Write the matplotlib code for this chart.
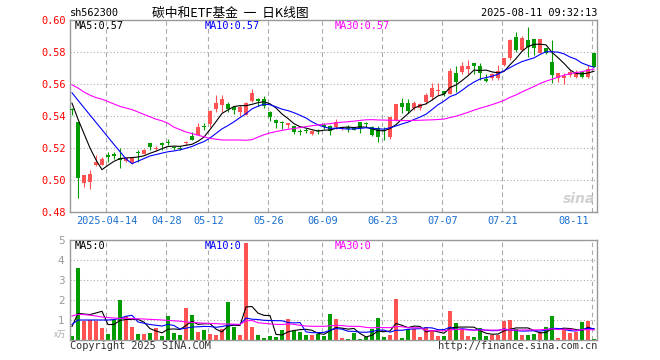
import numpy as np
import pandas as pd
import matplotlib
matplotlib.use("Agg")
import matplotlib.pyplot as plt

# daily candles, 2025-04-03 .. 2025-08-11
open_ = [0.5445, 0.5365, 0.4983, 0.4985, 0.5095, 0.5095, 0.5152, 0.5161, 0.5140, 0.5120,
         0.5105, 0.5178, 0.5163, 0.5233, 0.5195, 0.5230, 0.5238, 0.5206, 0.5198, 0.5232,
         0.5277, 0.5280, 0.5335, 0.5350, 0.5442, 0.5470, 0.5475, 0.5455, 0.5423, 0.5406,
         0.5496, 0.5506, 0.5504, 0.5427, 0.5375, 0.5360, 0.5344, 0.5337, 0.5304, 0.5314,
         0.5288, 0.5310, 0.5345, 0.5340, 0.5333, 0.5317, 0.5333, 0.5321, 0.5364, 0.5356,
         0.5333, 0.5323, 0.5314, 0.5267, 0.5375, 0.5480, 0.5480, 0.5448, 0.5448, 0.5490,
         0.5517, 0.5560, 0.5556, 0.5535, 0.5668, 0.5677, 0.5694, 0.5730, 0.5715, 0.5628,
         0.5638, 0.5638, 0.5720, 0.5760, 0.5896, 0.5810, 0.5875, 0.5880, 0.5796, 0.5823,
         0.5735, 0.5636, 0.5636, 0.5656, 0.5646, 0.5677, 0.5646, 0.5796]
high = [0.5450, 0.5365, 0.5030, 0.5063, 0.5155, 0.5145, 0.5177, 0.5177, 0.5198, 0.5140,
        0.5145, 0.5190, 0.5195, 0.5233, 0.5215, 0.5235, 0.5255, 0.5215, 0.5210, 0.5245,
        0.5300, 0.5358, 0.5355, 0.5435, 0.5530, 0.5530, 0.5490, 0.5460, 0.5470, 0.5490,
        0.5567, 0.5510, 0.5525, 0.5430, 0.5380, 0.5370, 0.5356, 0.5340, 0.5320, 0.5325,
        0.5310, 0.5320, 0.5355, 0.5345, 0.5380, 0.5340, 0.5345, 0.5333, 0.5365, 0.5362,
        0.5335, 0.5337, 0.5333, 0.5396, 0.5475, 0.5510, 0.5505, 0.5496, 0.5480, 0.5542,
        0.5604, 0.5604, 0.5558, 0.5700, 0.5715, 0.5740, 0.5750, 0.5732, 0.5730, 0.5665,
        0.5670, 0.5719, 0.5765, 0.5880, 0.5925, 0.5900, 0.5958, 0.5880, 0.5880, 0.5825,
        0.5875, 0.5667, 0.5667, 0.5690, 0.5690, 0.5680, 0.5720, 0.5796]
low = [0.5405, 0.4890, 0.4958, 0.4942, 0.5088, 0.5094, 0.5114, 0.5131, 0.5073, 0.5115,
       0.5100, 0.5115, 0.5160, 0.5190, 0.5180, 0.5190, 0.5220, 0.5190, 0.5190, 0.5218,
       0.5250, 0.5280, 0.5310, 0.5330, 0.5423, 0.5427, 0.5425, 0.5410, 0.5400, 0.5406,
       0.5485, 0.5465, 0.5450, 0.5370, 0.5325, 0.5320, 0.5325, 0.5290, 0.5280, 0.5295,
       0.5280, 0.5290, 0.5320, 0.5280, 0.5320, 0.5310, 0.5300, 0.5310, 0.5295, 0.5330,
       0.5278, 0.5240, 0.5250, 0.5254, 0.5370, 0.5417, 0.5417, 0.5438, 0.5440, 0.5475,
       0.5500, 0.5531, 0.5525, 0.5535, 0.5552, 0.5660, 0.5660, 0.5660, 0.5625, 0.5615,
       0.5625, 0.5625, 0.5715, 0.5750, 0.5800, 0.5805, 0.5770, 0.5781, 0.5795, 0.5790,
       0.5605, 0.5615, 0.5600, 0.5642, 0.5635, 0.5635, 0.5635, 0.5705]
close = [0.5435, 0.5010, 0.5030, 0.5040, 0.5113, 0.5130, 0.5148, 0.5152, 0.5125, 0.5135,
         0.5140, 0.5168, 0.5188, 0.5204, 0.5200, 0.5220, 0.5234, 0.5202, 0.5194, 0.5236,
         0.5250, 0.5330, 0.5331, 0.5430, 0.5483, 0.5506, 0.5442, 0.5435, 0.5458, 0.5483,
         0.5546, 0.5496, 0.5463, 0.5392, 0.5355, 0.5356, 0.5354, 0.5302, 0.5300, 0.5310,
         0.5308, 0.5306, 0.5333, 0.5305, 0.5364, 0.5333, 0.5320, 0.5317, 0.5327, 0.5352,
         0.5282, 0.5267, 0.5310, 0.5396, 0.5475, 0.5458, 0.5433, 0.5483, 0.5475, 0.5530,
         0.5577, 0.5564, 0.5538, 0.5680, 0.5610, 0.5715, 0.5715, 0.5715, 0.5667, 0.5622,
         0.5660, 0.5684, 0.5760, 0.5875, 0.5813, 0.5890, 0.5833, 0.5828, 0.5880, 0.5792,
         0.5656, 0.5667, 0.5650, 0.5677, 0.5677, 0.5646, 0.5692, 0.5708]
# volume in units of 10k
volume = [0.20, 3.62, 0.97, 1.00, 0.97, 0.62, 0.30, 1.00, 2.00, 1.20,
          0.67, 0.30, 0.30, 0.37, 0.62, 0.20, 1.20, 0.37, 0.25, 1.62,
          1.25, 0.42, 0.50, 0.30, 0.25, 0.55, 1.92, 0.67, 0.25, 4.87,
          0.67, 0.25, 0.12, 0.20, 0.17, 0.50, 1.05, 0.45, 0.42, 0.25,
          0.25, 0.30, 0.20, 1.30, 1.05, 0.12, 0.05, 0.37, 0.05, 0.17,
          0.55, 1.12, 0.17, 0.25, 2.05, 0.08, 0.55, 0.55, 0.17, 0.67,
          0.45, 0.20, 0.20, 1.47, 0.87, 0.50, 0.20, 0.17, 0.62, 0.20,
          0.25, 0.25, 0.97, 1.00, 0.55, 0.25, 0.25, 0.30, 0.42, 0.67,
          1.20, 0.12, 0.55, 0.33, 0.42, 0.92, 0.97, 0.05]

# moving-average values before the window is full (earlier days are off the chart)
ma5_head = [0.548, 0.538, 0.529, 0.520]
ma10_head = [0.5545, 0.5498, 0.5452, 0.5406, 0.5360, 0.5314, 0.5268, 0.5222, 0.5177]
ma30_head = [0.5595, 0.5575, 0.5550, 0.5530, 0.5515, 0.5505, 0.5490, 0.5475, 0.5460, 0.5450,
             0.5440, 0.5425, 0.5410, 0.5395, 0.5380, 0.5370, 0.5355, 0.5330, 0.5315, 0.5300,
             0.5290, 0.5280, 0.5270, 0.5260, 0.5255, 0.5250, 0.5250, 0.5250, 0.5250]
vma5_head = [0.68, 1.33, 1.30, 1.27]
vma10_head = [0.78, 1.00, 1.00, 1.00, 1.00, 1.00, 1.00, 1.02, 1.08]
vma30_head = [1.20, 1.28, 1.27, 1.24, 1.20, 1.15, 1.12, 1.10, 1.08, 1.08,
              1.07, 1.06, 1.05, 1.03, 1.02, 1.00, 0.98, 0.96, 0.94, 0.90,
              0.88, 0.86, 0.84, 0.83, 0.82, 0.80, 0.80, 0.79, 0.78]

tick_idx = [6, 16, 23, 33, 42, 52, 62, 72, 87]
tick_lbl = ["2025-04-14", "04-28", "05-12", "05-26", "06-09", "06-23", "07-07", "07-21", "08-11"]

RED = "#ff5252"
GREEN = "#009c00"
GRID = "#aaaaaa"
MONO = "DejaVu Sans Mono"
CJK = ["Noto Sans CJK SC", "DejaVu Sans"]


def moving(vals, n, head):
    m = pd.Series(vals).rolling(n).mean().to_numpy()
    m[:n - 1] = head
    return m


open_ = np.array(open_)
close = np.array(close)
high = np.array(high)
low = np.array(low)
volume = np.array(volume)
x = np.arange(len(close))
col = np.where(close >= open_, RED, GREEN)

fig = plt.figure(figsize=(6.6, 3.6), dpi=100)
W, H = 660.0, 360.0
ax = fig.add_axes([70 / W, 1 - 212 / H, 527 / W, 192 / H])
axv = fig.add_axes([70 / W, 1 - 340 / H, 527 / W, 100 / H])

for a in (ax, axv):
    a.set_xlim(-1 / 3, 87.5)
    a.set_xticks([])
    for s in a.spines.values():
        s.set_color("#999999")
        s.set_linewidth(1.0)
    for t in tick_idx:
        a.axvline(t - 0.27, color=GRID, lw=0.8, ls=(0, (4, 3)), zorder=0)

# price panel
ax.set_ylim(0.48, 0.60)
for yv in [0.50, 0.52, 0.54, 0.56, 0.58]:
    ax.axhline(yv, color=GRID, lw=0.8, ls=(0, (1, 2)), zorder=0)
yt = np.arange(0.48, 0.6001, 0.02)
ax.set_yticks(yt)
ax.set_yticklabels(["%.2f" % v for v in yt], color="red", family=MONO, fontsize=7.4)
ax.tick_params(axis="y", length=0, pad=3)

ax.vlines(x, low, high, colors=col, lw=0.8, zorder=2)
body_h = np.maximum(np.abs(close - open_), 0.0007)
body_mid = (close + open_) / 2
ax.bar(x, body_h, bottom=body_mid - body_h / 2, width=0.8, color=col, lw=0, zorder=3)

ax.plot(x, moving(close, 5, ma5_head), color="black", lw=0.8, zorder=4)
ax.plot(x, moving(close, 10, ma10_head), color="#0000ff", lw=0.8, zorder=4)
ax.plot(x, moving(close, 30, ma30_head), color="#ff00ff", lw=0.8, zorder=4)

# volume panel
axv.set_ylim(0, 5)
for yv in [1, 2, 3, 4]:
    axv.axhline(yv, color=GRID, lw=0.8, ls=(0, (1, 2)), zorder=0)
axv.set_yticks([1, 2, 3, 4, 5])
axv.set_yticklabels(["1", "2", "3", "4", "5"], color="#999999", fontsize=7.5)
axv.tick_params(axis="y", length=0, pad=4)
axv.bar(x, volume, width=0.8, color=col, lw=0, zorder=2)
axv.plot(x, moving(volume, 5, vma5_head), color="black", lw=0.8, zorder=4)
axv.plot(x, moving(volume, 10, vma10_head), color="#0000ff", lw=0.8, zorder=4)
axv.plot(x, moving(volume, 30, vma30_head), color="#ff00ff", lw=0.8, zorder=4)

# date labels under the price panel
tr = ax.get_xaxis_transform()
for t, lb in zip(tick_idx, tick_lbl):
    if t == tick_idx[-1]:
        ax.text(86.2, -0.047, lb, transform=tr, ha="right", va="center",
                color="#1a6fd0", family=MONO, fontsize=7.4)
    else:
        ax.text(t - 0.27, -0.047, lb, transform=tr, ha="center", va="center",
                color="#1a6fd0", family=MONO, fontsize=7.4)


def fx(px):
    return px / W


def fy(py):
    return 1 - py / H


# header
fig.text(fx(70), fy(13), "sh562300", family=MONO, fontsize=7.4, va="center", ha="left")
fig.text(fx(230), fy(13), "碳中和ETF基金  一  日K线图", family=CJK, fontsize=9.2,
         va="center", ha="center")
fig.text(fx(597), fy(13), "2025-08-11 09:32:13", family=MONO, fontsize=7.4,
         va="center", ha="right")

# MA legends
fig.text(fx(75), fy(26), "MA5:0.57", family=MONO, fontsize=7.4, va="center", color="black")
fig.text(fx(205), fy(26), "MA10:0.57", family=MONO, fontsize=7.4, va="center", color="#0000ff")
fig.text(fx(335), fy(26), "MA30:0.57", family=MONO, fontsize=7.4, va="center", color="#ff00ff")
fig.text(fx(75), fy(246), "MA5:0", family=MONO, fontsize=7.4, va="center", color="black")
fig.text(fx(205), fy(246), "MA10:0", family=MONO, fontsize=7.4, va="center", color="#0000ff")
fig.text(fx(335), fy(246), "MA30:0", family=MONO, fontsize=7.4, va="center", color="#ff00ff")

# footer and watermark
fig.text(fx(70), fy(346), "Copyright 2025 SINA.COM", family=MONO, fontsize=7.4,
         va="center", ha="left", color="#333333")
fig.text(fx(597), fy(346), "http://finance.sina.com.cn", family=MONO, fontsize=7.4,
         va="center", ha="right", color="#333333")
fig.text(fx(66), fy(334), "x万", family=CJK, fontsize=6, va="center", ha="right", color="#aaaaaa")
fig.text(fx(595), fy(199), "sina", family="DejaVu Sans", fontsize=10, fontweight="bold",
         style="italic", va="center", ha="right", color="#cccccc", alpha=0.9)

fig.savefig("out.png", dpi=100)
